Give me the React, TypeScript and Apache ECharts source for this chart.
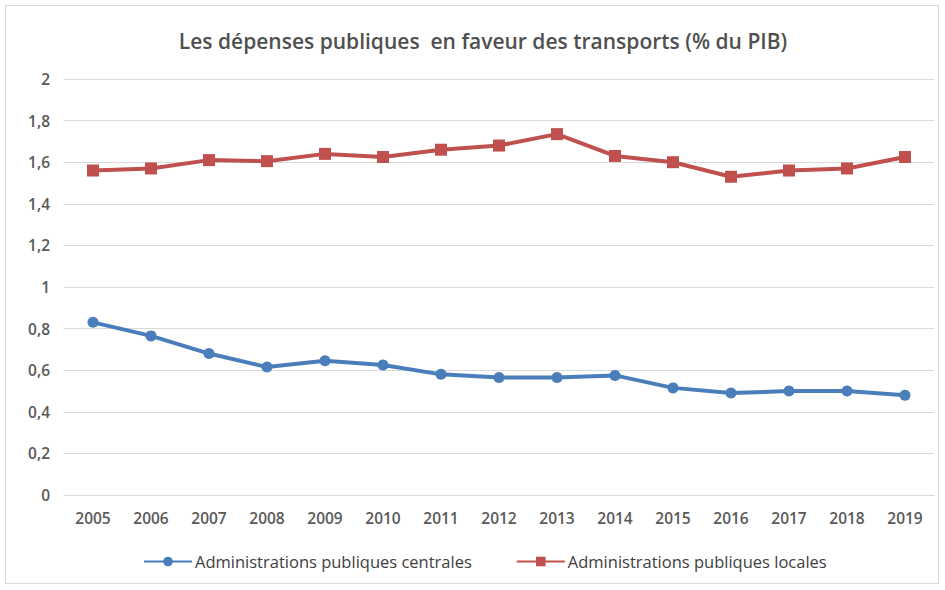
import React, { useEffect, useRef } from "react";
import * as echarts from "echarts";

const years = ["2005", "2006", "2007", "2008", "2009", "2010", "2011", "2012", "2013", "2014", "2015", "2016", "2017", "2018", "2019"];
const centrales = [0.83, 0.765, 0.68, 0.615, 0.645, 0.625, 0.58, 0.565, 0.565, 0.575, 0.515, 0.49, 0.5, 0.5, 0.48];
const locales = [1.56, 1.57, 1.61, 1.605, 1.64, 1.625, 1.66, 1.68, 1.735, 1.63, 1.6, 1.53, 1.56, 1.57, 1.625];
const seriesNames = ["Administrations publiques centrales", "Administrations publiques locales"];
const titleText = "Les dépenses publiques  en faveur des transports (% du PIB)";

export default function App() {
  const ref = useRef<HTMLDivElement>(null);
  useEffect(() => {
    if (!ref.current) return;
    const chart = echarts.init(ref.current, undefined, { renderer: "svg" });
    const font = "'Open Sans', 'Noto Sans', sans-serif";
    chart.setOption({
      animation: false,
      backgroundColor: "#ffffff",
      textStyle: { fontFamily: font },
      title: {
        text: titleText,
        left: 478,
        textAlign: "center",
        top: 25,
        textStyle: { fontFamily: font, fontSize: 21, fontWeight: 600, color: "#505050" },
      },
      graphic: [
        {
          type: "rect",
          shape: { x: 5.5, y: 5.5, width: 933, height: 578 },
          style: { fill: "none", stroke: "#d9d9d9", lineWidth: 1 },
          silent: true,
        },
      ],
      legend: {
        bottom: 15,
        left: 138,
        itemGap: 44,
        itemWidth: 48,
        itemHeight: 12,
        textStyle: { fontFamily: font, fontSize: 16.5, color: "#404040", padding: [0, 0, 0, -2] },
        data: seriesNames,
      },
      grid: { left: 64, right: 11, top: 79, bottom: 95, containLabel: false },
      xAxis: {
        type: "category",
        data: years,
        boundaryGap: true,
        axisLine: { show: true, lineStyle: { color: "#d9d9d9" } },
        axisTick: { show: false },
        axisLabel: { color: "#595959", fontSize: 15.5, fontWeight: 600, margin: 15, fontFamily: font },
      },
      yAxis: {
        type: "value",
        min: 0,
        max: 2,
        interval: 0.2,
        axisLine: { show: false },
        axisTick: { show: false },
        splitLine: { lineStyle: { color: "#d9d9d9", width: 1 } },
        axisLabel: {
          color: "#595959",
          fontSize: 15.5,
          fontWeight: 600,
          margin: 14,
          fontFamily: font,
          formatter: (v: number) => String(Math.round(v * 10) / 10).replace(".", ","),
        },
      },
      series: [
        {
          name: seriesNames[0],
          type: "line",
          data: centrales,
          symbol: "circle",
          symbolSize: 11,
          lineStyle: { width: 4, color: "#4a7ebb" },
          itemStyle: { color: "#4a7ebb" },
        },
        {
          name: seriesNames[1],
          type: "line",
          data: locales,
          symbol: "rect",
          symbolSize: 12,
          lineStyle: { width: 4, color: "#c0504d" },
          itemStyle: { color: "#c0504d" },
        },
      ],
    });
    return () => chart.dispose();
  }, []);
  return <div ref={ref} style={{ width: 945, height: 590, position: "absolute", left: 0, top: 0 }} />;
}
